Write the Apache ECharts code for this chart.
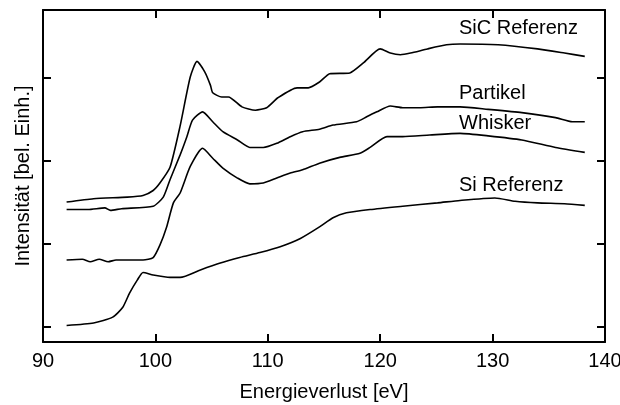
<!DOCTYPE html>
<html>
<head>
<meta charset="UTF-8">
<title>EELS Si L-Kante</title>
<script src="https://cdn.jsdelivr.net/npm/echarts@6/dist/echarts.min.js"></script>
<style>
  html, body { margin: 0; padding: 0; background: #fff; }
  #chart { width: 620px; height: 405px; }
</style>
</head>
<body>
<div id="chart"></div>
<script>
// x-Achse: Energieverlust [eV]
var xTicks = [90, 100, 110, 120, 130, 140];
var yTicks = [0, 1, 2, 3];

// SiC Referenz
var sicE = [92.1, 94.5, 97.5, 98.9, 99.8, 100.4, 101.3, 102.2, 103.1, 103.7, 104.4, 104.9, 105.1, 105.9, 106.5, 107.7, 108.9, 109.9, 110.9, 112.6, 113.6, 114.6, 115.5, 117.3, 118.5, 120.0, 120.9, 121.8, 122.7, 124.2, 125.9, 127.1, 130.5, 134.0, 136.4, 138.2];
var sicI = [1.50, 1.54, 1.56, 1.58, 1.64, 1.73, 1.92, 2.42, 3.01, 3.20, 3.07, 2.91, 2.82, 2.77, 2.77, 2.65, 2.61, 2.64, 2.76, 2.88, 2.88, 2.95, 3.05, 3.06, 3.18, 3.35, 3.30, 3.28, 3.30, 3.35, 3.40, 3.41, 3.40, 3.35, 3.30, 3.26];

// Partikel
var parE = [92.1, 94.0, 95.5, 96.0, 97.0, 99.8, 100.7, 101.3, 102.2, 102.8, 103.3, 104.2, 105.1, 106.0, 107.3, 108.4, 109.6, 110.8, 112.0, 113.1, 114.6, 115.8, 117.9, 118.8, 119.7, 120.9, 122.0, 123.5, 125.1, 127.1, 129.6, 132.6, 135.6, 137.1, 138.2];
var parI = [1.41, 1.41, 1.43, 1.40, 1.42, 1.45, 1.56, 1.77, 2.07, 2.29, 2.49, 2.59, 2.47, 2.35, 2.25, 2.16, 2.16, 2.21, 2.29, 2.35, 2.38, 2.43, 2.47, 2.53, 2.59, 2.66, 2.64, 2.64, 2.65, 2.65, 2.62, 2.58, 2.52, 2.47, 2.47];

// Whisker
var whiE = [92.1, 93.5, 94.2, 95.0, 95.8, 96.5, 98.9, 99.8, 100.4, 101.0, 101.6, 102.2, 103.1, 104.2, 105.1, 106.0, 107.3, 108.4, 109.6, 110.8, 112.0, 113.1, 114.6, 116.4, 118.2, 119.1, 120.6, 122.0, 124.4, 127.1, 129.6, 132.6, 135.6, 138.2];
var whiI = [0.80, 0.81, 0.78, 0.81, 0.78, 0.80, 0.80, 0.83, 0.98, 1.20, 1.49, 1.61, 1.93, 2.15, 2.03, 1.91, 1.79, 1.72, 1.73, 1.79, 1.85, 1.89, 1.97, 2.04, 2.09, 2.16, 2.29, 2.29, 2.31, 2.33, 2.30, 2.25, 2.16, 2.10];

// Si Referenz
var siE = [92.1, 94.5, 96.2, 97.1, 97.7, 98.4, 98.9, 99.8, 101.3, 102.2, 104.0, 105.7, 107.5, 109.3, 111.1, 112.9, 114.6, 115.8, 117.0, 119.1, 122.0, 125.1, 127.1, 130.2, 132.0, 134.0, 136.4, 138.2];
var siI = [0.01, 0.04, 0.11, 0.23, 0.40, 0.56, 0.65, 0.62, 0.59, 0.59, 0.68, 0.76, 0.83, 0.89, 0.96, 1.06, 1.20, 1.31, 1.37, 1.41, 1.45, 1.49, 1.52, 1.55, 1.51, 1.49, 1.48, 1.46];

var names = ['SiC Referenz', 'Partikel', 'Whisker', 'Si Referenz'];

function pairs(e, v) {
  var out = [];
  for (var i = 0; i < e.length; i++) out.push([e[i], v[i]]);
  return out;
}

var FONT = 'Liberation Sans, Arial, sans-serif';
var chart = echarts.init(document.getElementById('chart'));

var axisLine = { show: true, onZero: false, lineStyle: { color: '#000', width: 2 } };
var tickStyle = { color: '#000', width: 2 };

function lineSeries(name, e, v) {
  return {
    name: name,
    type: 'line',
    xAxisIndex: 0,
    yAxisIndex: 0,
    data: pairs(e, v),
    showSymbol: false,
    smooth: 0.2,
    silent: true,
    lineStyle: { color: '#000', width: 1.6 }
  };
}

function label(text, x, y) {
  return {
    type: 'text',
    left: x,
    top: y,
    style: { text: text, fill: '#000', font: '20px ' + FONT }
  };
}

chart.setOption({
  animation: false,
  backgroundColor: '#fff',
  grid: { left: 43, right: 15, top: 10, bottom: 63, outerBoundsMode: 'none' },
  xAxis: [{
    type: 'value',
    position: 'bottom',
    min: 90, max: 140, interval: 10,
    name: 'Energieverlust [eV]',
    nameLocation: 'middle',
    nameGap: 40,
    nameTextStyle: { color: '#000', fontSize: 20, fontFamily: FONT },
    axisLine: axisLine,
    axisTick: { inside: true, length: 8, lineStyle: tickStyle },
    axisLabel: { color: '#000', fontSize: 20, fontFamily: FONT, margin: 9 },
    splitLine: { show: false }
  }, {
    type: 'value',
    position: 'top',
    min: 90, max: 140, interval: 10,
    axisLine: axisLine,
    axisTick: { inside: true, length: 8, lineStyle: tickStyle },
    axisLabel: { show: false },
    splitLine: { show: false }
  }],
  yAxis: [{
    type: 'value',
    position: 'left',
    min: -0.19, max: 3.82,
    name: 'Intensität [bel. Einh.]',
    nameLocation: 'middle',
    nameGap: 10,
    nameTextStyle: { color: '#000', fontSize: 20, fontFamily: FONT },
    axisLine: axisLine,
    axisTick: { inside: true, length: 8, lineStyle: tickStyle, customValues: yTicks },
    axisLabel: { show: false },
    splitLine: { show: false }
  }, {
    type: 'value',
    position: 'right',
    min: -0.19, max: 3.82,
    axisLine: axisLine,
    axisTick: { inside: true, length: 8, lineStyle: tickStyle, customValues: yTicks },
    axisLabel: { show: false },
    splitLine: { show: false }
  }],
  series: [
    lineSeries(names[0], sicE, sicI),
    lineSeries(names[1], parE, parI),
    lineSeries(names[2], whiE, whiI),
    lineSeries(names[3], siE, siI)
  ],
  graphic: [
    label(names[0], 459, 18),
    label(names[1], 459, 83),
    label(names[2], 459, 113),
    label(names[3], 459, 175)
  ]
});
</script>
</body>
</html>
